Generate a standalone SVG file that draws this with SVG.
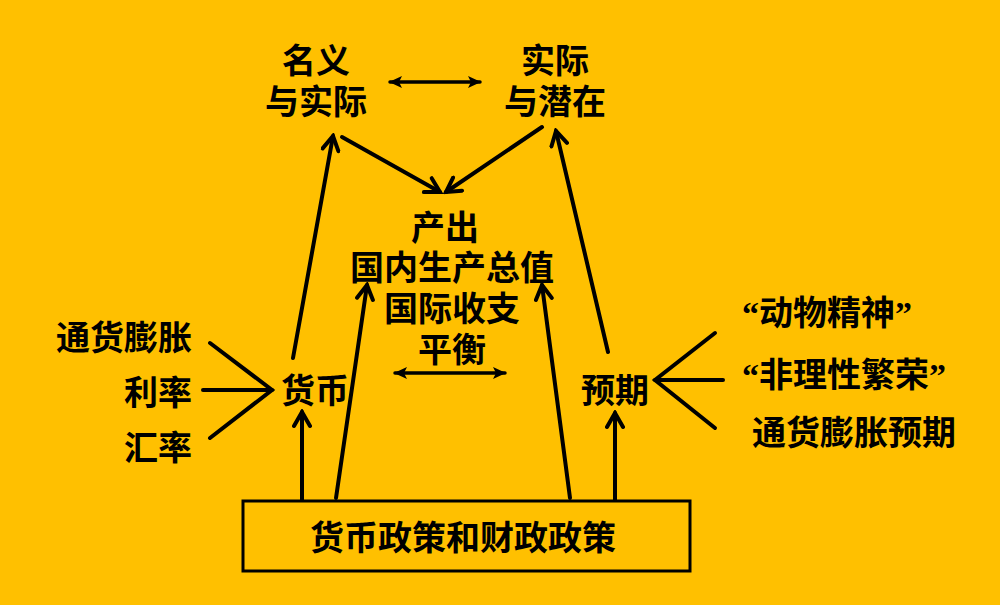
<svg xmlns="http://www.w3.org/2000/svg" width="1000" height="605" viewBox="0 0 1000 605">
<defs>
<style>
.t{font-family:"Noto Sans CJK SC","Noto Sans CJK JP",sans-serif;font-weight:700;font-size:34px;fill:#000;}
.m{text-anchor:middle;}
.e{text-anchor:end;}
.q{font-family:"Liberation Serif",serif;font-weight:700;}
.ln{stroke:#000;stroke-width:4;fill:none;stroke-linecap:round;}
.a{marker-end:url(#chev);}
.d{stroke-width:3.5;marker-start:url(#tri);marker-end:url(#tri);}
</style>
<marker id="chev" viewBox="0 0 20 20" refX="17" refY="10" markerWidth="20" markerHeight="20" markerUnits="userSpaceOnUse" orient="auto">
<path d="M3,2 L17,10 L3,18" fill="none" stroke="#000" stroke-width="4" stroke-linecap="round"/>
</marker>
<marker id="tri" viewBox="0 0 14 14" refX="12" refY="7" markerWidth="14" markerHeight="14" markerUnits="userSpaceOnUse" orient="auto-start-reverse">
<path d="M0,1 L13,7 L0,13 L3,7 Z" fill="#000"/>
</marker>
</defs>
<rect x="0" y="0" width="1000" height="605" fill="#FFC000"/>
<g id="connectors">
<line class="ln d" x1="390" y1="82" x2="480" y2="82"/>
<line class="ln a" x1="342" y1="137" x2="440" y2="192"/>
<line class="ln a" x1="542" y1="127" x2="446" y2="192"/>
<line class="ln a" x1="293" y1="358" x2="333" y2="136"/>
<line class="ln a" x1="608" y1="352" x2="556" y2="131"/>
<line class="ln a" x1="302" y1="500" x2="302" y2="412"/>
<line class="ln a" x1="336" y1="498" x2="367" y2="285"/>
<line class="ln a" x1="570" y1="498" x2="542" y2="285"/>
<line class="ln a" x1="615" y1="500" x2="615" y2="413"/>
<line class="ln d" x1="395" y1="373" x2="505" y2="373"/>
<polyline class="ln" points="210,343 272,390 210,438"/>
<line class="ln" x1="203" y1="390" x2="272" y2="390"/>
<polyline class="ln" points="715,333 655,380 715,428"/>
<line class="ln" x1="723" y1="380" x2="655" y2="380"/>
</g>
<g id="nominal">
<text class="t m" x="316" y="73">名义</text>
<text class="t m" x="316" y="114">与实际</text>
</g>
<g id="real">
<text class="t m" x="555" y="73">实际</text>
<text class="t m" x="555" y="114">与潜在</text>
</g>
<g id="output">
<text class="t m" x="445" y="240">产出</text>
<text class="t m" x="452" y="280">国内生产总值</text>
<text class="t m" x="452" y="321">国际收支</text>
<text class="t m" x="452" y="362">平衡</text>
</g>
<g id="money">
<text class="t m" x="315" y="403">货币</text>
</g>
<g id="expect">
<text class="t m" x="615" y="403">预期</text>
</g>
<g id="inflation">
<text class="t e" x="192" y="350">通货膨胀</text>
</g>
<g id="interest">
<text class="t e" x="192" y="405">利率</text>
</g>
<g id="exchange">
<text class="t e" x="192" y="460">汇率</text>
</g>
<g id="animal">
<text class="t" x="742" y="325"><tspan class="q">“</tspan>动物精神<tspan class="q">”</tspan></text>
</g>
<g id="exuberance">
<text class="t" x="742" y="387"><tspan class="q">“</tspan>非理性繁荣<tspan class="q">”</tspan></text>
</g>
<g id="infexp">
<text class="t" x="752" y="445">通货膨胀预期</text>
</g>
<g id="policy">
<rect x="243" y="501" width="447" height="70" fill="none" stroke="#000" stroke-width="3"/>
<text class="t m" x="463" y="550">货币政策和财政政策</text>
</g>
</svg>
